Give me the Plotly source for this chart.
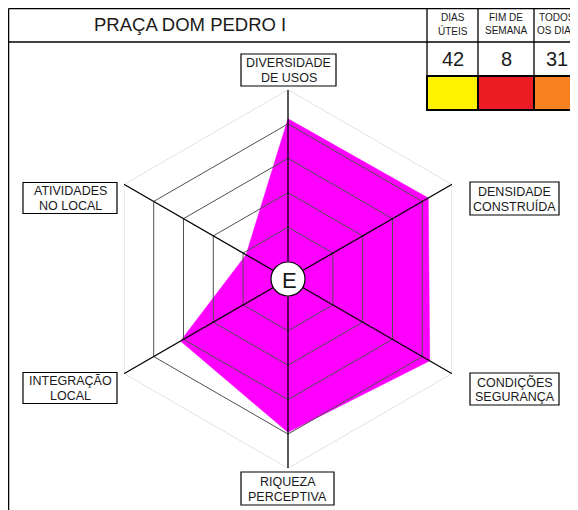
import plotly.graph_objects as go

# the page body adds an 8px margin, so the figure starts at (8, 8)
OFF = 8
W, H = 578 - OFF, 510 - OFF

# radar data
categorias = ["DIVERSIDADE DE USOS", "DENSIDADE CONSTRUÍDA", "CONDIÇÕES SEGURANÇA",
              "RIQUEZA PERCEPTIVA", "INTEGRAÇÃO LOCAL", "ATIVIDADES NO LOCAL"]
valores = [4.15, 4.2, 4.25, 3.95, 3.1, 0.9]
niveis = [1, 2, 3, 4, 5]

# header table
titulo = "PRAÇA DOM PEDRO I"
colunas = [["DIAS", "ÚTEIS"], ["FIM DE", "SEMANA"], ["TODOS", "OS DIAS"]]
contagens = [42, 8, 31]
cores = ["#FFF200", "#ED1C24", "#F7821F"]

rotulos = [["DIVERSIDADE", "DE USOS"], ["DENSIDADE", "CONSTRUÍDA"], ["CONDIÇÕES", "SEGURANÇA"],
           ["RIQUEZA", "PERCEPTIVA"], ["INTEGRAÇÃO", "LOCAL"], ["ATIVIDADES", "NO LOCAL"]]


def px(x):
    return (x - OFF) / W


def py(y):
    return 1 - (y - OFF) / H


def texto(x, y, t, size):
    return dict(x=px(x), y=py(y), xref="paper", yref="paper", text=t, showarrow=False,
                xanchor="center", yanchor="middle", font=dict(size=size, color="#1a1a1a"))


fig = go.Figure()

# filled area
fig.add_trace(go.Scatterpolar(r=valores + [valores[0]], theta=categorias + [categorias[0]],
                              mode="lines", fill="toself", fillcolor="#FF00FF",
                              line=dict(color="#FF00FF", width=0.5), hoverinfo="skip"))

# rings drawn above the fill
for n in niveis:
    fig.add_trace(go.Scatterpolar(r=[n] * 7, theta=categorias + [categorias[0]], mode="lines",
                                  line=dict(color="#c4c4c4" if n == 5 else "#505050", width=1),
                                  hoverinfo="skip"))
# spokes
for c in categorias:
    fig.add_trace(go.Scatterpolar(r=[0, 5], theta=[c, c], mode="lines",
                                  line=dict(color="black", width=1.3), hoverinfo="skip"))

cx, cy, R = 288, 279, 189.5
fig.update_layout(
    width=W, height=H, margin=dict(l=0, r=0, t=0, b=0),
    paper_bgcolor="white", plot_bgcolor="white", showlegend=False,
    font=dict(family="Liberation Sans, Arial", color="#1a1a1a"),
    polar=dict(
        domain=dict(x=[px(cx - R), px(cx + R)], y=[py(cy + R), py(cy - R)]),
        gridshape="linear", hole=0.092, bgcolor="white",
        radialaxis=dict(range=[0, 5], visible=False, showgrid=False),
        angularaxis=dict(rotation=90, direction="clockwise", showgrid=False,
                         showline=False, showticklabels=False, ticks=""),
    ),
)

shapes = []
ln = dict(color="black", width=1.3)
# outer frame and header
shapes.append(dict(type="line", x0=px(8.6), x1=px(590), y0=py(8.6), y1=py(8.6), line=ln))
shapes.append(dict(type="line", x0=px(8.6), x1=px(590), y0=py(42), y1=py(42), line=ln))
shapes.append(dict(type="line", x0=px(8.6), x1=px(8.6), y0=py(8.6), y1=py(520), line=ln))
for x in [427, 478, 534]:
    shapes.append(dict(type="line", x0=px(x), x1=px(x), y0=py(8.6), y1=py(110), line=ln))
# colour cells
xs = [427, 478, 534, 590]
for i, cor in enumerate(cores):
    shapes.append(dict(type="rect", x0=px(xs[i]), x1=px(xs[i + 1]), y0=py(76), y1=py(110),
                       fillcolor=cor, line=dict(color="black", width=2)))

# label boxes: centre x, centre y, width, height
caixas = [(288.5, 70, 95, 32), (514.5, 198.5, 89, 33), (514.5, 389, 89, 32),
          (287.5, 488.5, 93, 33), (70, 388, 94, 31), (70, 198, 94, 31)]
anns = []
for (bx, by, bw, bh), linhas in zip(caixas, rotulos):
    shapes.append(dict(type="rect", x0=px(bx - bw / 2), x1=px(bx + bw / 2),
                       y0=py(by + bh / 2), y1=py(by - bh / 2),
                       fillcolor="white", line=dict(color="black", width=1.2)))
    anns.append(texto(bx, by - 7, linhas[0], 12.5))
    anns.append(texto(bx, by + 8, linhas[1], 12.5))

# centre badge
shapes.append(dict(type="circle", x0=px(cx - 17), x1=px(cx + 17), y0=py(cy + 17), y1=py(cy - 17),
                   fillcolor="white", line=dict(color="black", width=1.2)))
anns.append(texto(cx + 1, cy + 1, "E", 22))

# header text
anns.append(texto(190, 25, titulo, 18.5))
centros = [452.5, 506, 557]
for mx, col, v in zip(centros, colunas, contagens):
    anns.append(texto(mx, 18, col[0], 10))
    anns.append(texto(mx, 31, col[1], 10))
    anns.append(texto(mx, 59, str(v), 20))

fig.update_layout(shapes=shapes, annotations=anns)
fig.write_html("out.html")
